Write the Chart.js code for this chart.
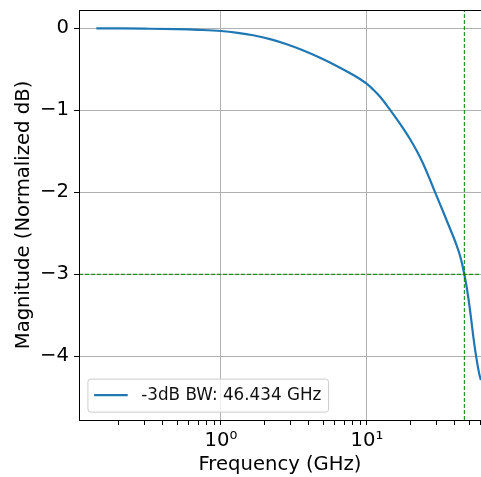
<!DOCTYPE html>
<html>
<head>
<meta charset="utf-8">
<title>-3dB Bandwidth</title>
<script src="https://cdn.jsdelivr.net/npm/chart.js@4.4.0/dist/chart.umd.min.js"></script>
<style>
  body { margin: 0; background: #fff; }
  canvas { display: block; }
</style>
</head>
<body>
<canvas id="bwChart" width="481" height="477"></canvas>
<script>
// Frequency response (GHz vs normalized dB)
const freqGHz = [0.14, 0.2, 0.3, 0.5, 0.7, 1.0, 1.3, 1.66, 2.2, 2.82, 3.6, 4.77, 6.2, 8.06, 9, 10,
                 11, 12.3, 14.4, 17, 19.7, 22, 24.3, 26.7, 29.2, 32, 35, 38, 41, 43, 44.8, 46.434,
                 48, 49.4, 51.5, 53.5, 55.7, 57.8, 59.2, 60.4];
const magDB = [0, -0.002, -0.005, -0.011, -0.019, -0.033, -0.055, -0.085, -0.135, -0.195, -0.265, -0.36, -0.46, -0.57, -0.622, -0.678,
               -0.745, -0.835, -0.995, -1.175, -1.35, -1.5, -1.655, -1.825, -1.995, -2.165, -2.335, -2.49, -2.64, -2.75, -2.87, -3.0,
               -3.14, -3.28, -3.52, -3.76, -3.98, -4.15, -4.24, -4.29];

// -3 dB marker lines
const bwFreq = 46.434;
const cutLevel = -3;

// axis ranges and ticks
const xMin = 0.1065, xMax = 60.4;
const yMin = -4.777, yMax = 0.223;
const xTicks = [0.2, 0.3, 0.4, 0.5, 0.6, 0.7, 0.8, 0.9, 1, 2, 3, 4, 5, 6, 7, 8, 9, 10, 20, 30, 40, 50, 60];
const xMajor = [1, 10];
const xLabels = {1: '10\u2070', 10: '10\u00b9'};
const yTicks = [-4, -3, -2, -1, 0];

const legendLabel = '-3dB BW: ' + bwFreq.toFixed(3) + ' GHz';

const FONT = "'DejaVu Sans', sans-serif";
Chart.defaults.font.family = FONT;
Chart.defaults.color = '#000';

// draws the top/right spines and the matplotlib-style legend box
const framePlugin = {
    id: 'frame',
    afterDatasetsDraw(chart) {
        const a = chart.chartArea;
        const c = chart.ctx;
        c.save();
        c.strokeStyle = '#000';
        c.lineWidth = 1;
        c.strokeRect(a.left + 0.5, a.top + 0.5, a.right - a.left, a.bottom - a.top);

        // legend (sizes in matplotlib em units, fontsize 16.8px)
        const em = 16.8;
        const ds = chart.data.datasets[0];
        c.font = em + 'px ' + FONT;
        const tw = c.measureText(ds.label).width;
        const pad = 0.4 * em, handle = 2.0 * em, gap = 0.8 * em;
        const bh = 33;
        const bx = a.left + 0.5 * em, by = a.bottom - 0.5 * em - bh;
        const bw = pad + handle + gap + tw + pad;
        c.beginPath();
        c.roundRect(bx + 0.5, by + 0.5, bw, bh, 3);
        c.fillStyle = 'rgba(255,255,255,0.8)';
        c.fill();
        c.strokeStyle = '#cccccc';
        c.lineWidth = 1;
        c.stroke();
        c.beginPath();
        c.moveTo(bx + pad, by + bh / 2);
        c.lineTo(bx + pad + handle, by + bh / 2);
        c.strokeStyle = ds.borderColor;
        c.lineWidth = 2.2;
        c.stroke();
        c.fillStyle = '#111';
        c.textBaseline = 'middle';
        c.fillText(ds.label, bx + pad + handle + gap, by + bh / 2 + 1);
        c.restore();
    }
};

const ctx = document.getElementById('bwChart').getContext('2d');
const bwChart = new Chart(ctx, {
    type: 'line',
    data: {
        datasets: [
            {
                label: legendLabel,
                data: freqGHz.map((f, i) => ({x: f, y: magDB[i]})),
                borderColor: '#1f77b4',
                borderWidth: 2.2,
                pointRadius: 0,
                cubicInterpolationMode: 'monotone',
                fill: false
            },
            {
                label: 'bw',
                data: [{x: bwFreq, y: yMin}, {x: bwFreq, y: yMax}],
                borderColor: '#008000',
                borderWidth: 1,
                borderDash: [4, 2],
                pointRadius: 0,
                order: -1
            },
            {
                label: 'cut',
                data: [{x: xMin, y: cutLevel}, {x: xMax, y: cutLevel}],
                borderColor: '#008000',
                borderWidth: 1,
                borderDash: [4, 2],
                pointRadius: 0,
                order: -1
            }
        ]
    },
    plugins: [framePlugin],
    options: {
        responsive: false,
        animation: false,
        layout: { padding: { top: 10, right: 0, left: 0, bottom: 0 } },
        plugins: {
            legend: { display: false },
            tooltip: { enabled: false }
        },
        scales: {
            x: {
                type: 'logarithmic',
                min: xMin,
                max: xMax,
                afterBuildTicks: (s) => { s.ticks = xTicks.map(v => ({value: v})); },
                afterFit: (s) => { s.height = 57; s.paddingLeft = 0; s.paddingRight = 0; },
                ticks: {
                    autoSkip: false,
                    maxRotation: 0,
                    padding: 4,
                    font: { size: 19.6 },
                    callback: (v) => xLabels[v] || ''
                },
                grid: {
                    color: (c) => (c.tick && xMajor.includes(c.tick.value)) ? '#b0b0b0' : 'rgba(0,0,0,0)',
                    tickColor: '#000',
                    tickLength: 5
                },
                border: { color: '#000', width: 1 },
                title: {
                    display: true,
                    text: 'Frequency (GHz)',
                    font: { size: 19.6 },
                    padding: { top: 0, bottom: 0 }
                }
            },
            y: {
                min: yMin,
                max: yMax,
                afterBuildTicks: (s) => { s.ticks = yTicks.map(v => ({value: v})); },
                afterFit: (s) => { s.width = 79; s.paddingTop = 0; s.paddingBottom = 0; },
                ticks: {
                    padding: 5,
                    font: { size: 19.6 },
                    callback: (v) => v === 0 ? '0' : '\u2212' + Math.abs(v)
                },
                grid: {
                    color: '#b0b0b0',
                    tickColor: '#000',
                    tickLength: 5
                },
                border: { color: '#000', width: 1 },
                title: {
                    display: true,
                    text: 'Magnitude (Normalized dB)',
                    font: { size: 19.6 },
                    padding: { top: 12, bottom: 0 }
                }
            }
        }
    }
});
</script>
</body>
</html>
